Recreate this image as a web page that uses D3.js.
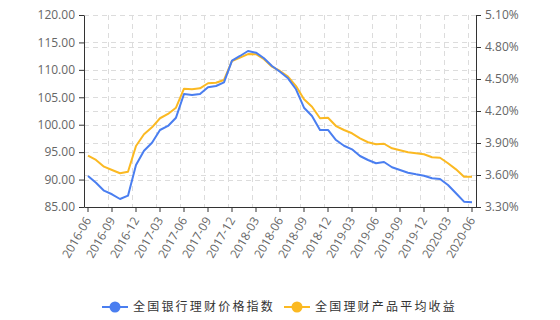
<!DOCTYPE html>
<html>
<head>
<meta charset="utf-8">
<script src="https://cdn.jsdelivr.net/npm/d3@7"></script>
<style>
  body { margin: 0; background: #fff; }
  svg text { font-family: "Open Sans", "DejaVu Sans", sans-serif; }
</style>
</head>
<body>
<div id="chart"></div>
<script>
// months 2016-06 .. 2020-06
var months = [];
for (var m = 0; m < 49; m++) {
    var yy = 2016 + Math.floor((5 + m) / 12);
    var mm = (5 + m) % 12 + 1;
    months.push(yy + "-" + (mm < 10 ? "0" + mm : mm));
}

// 全国银行理财价格指数 (left axis)
var priceIndex = [90.65, 89.43, 87.97, 87.32, 86.46, 87.06, 92.66, 95.26, 96.72, 99.04,
    99.77, 101.28, 105.6, 105.42, 105.6, 106.82, 107.06, 107.73, 111.67, 112.53,
    113.44, 113.13, 112.11, 110.7, 109.66, 108.46, 106.46, 103.1, 101.59, 99.04,
    99.04, 97.21, 96.17, 95.52, 94.3, 93.57, 92.97, 93.2, 92.24, 91.74,
    91.25, 90.96, 90.71, 90.23, 90.1, 89.01, 87.5, 85.97, 85.86];

// 全国理财产品平均收益 (right axis, %)
var avgYield = [3.781, 3.741, 3.678, 3.647, 3.616, 3.631, 3.872, 3.982, 4.047, 4.132,
    4.172, 4.231, 4.409, 4.403, 4.413, 4.46, 4.465, 4.491, 4.669, 4.7,
    4.734, 4.732, 4.685, 4.615, 4.575, 4.522, 4.434, 4.31, 4.24, 4.132,
    4.137, 4.059, 4.022, 3.991, 3.944, 3.907, 3.888, 3.893, 3.85, 3.832,
    3.813, 3.803, 3.794, 3.766, 3.762, 3.71, 3.653, 3.584, 3.584];

var leftTicks = [85, 90, 95, 100, 105, 110, 115, 120];
var rightTicks = [3.3, 3.6, 3.9, 4.2, 4.5, 4.8, 5.1];
var seriesNames = ["全国银行理财价格指数", "全国理财产品平均收益"];

var colors = ["#4a7ef0", "#fbb922"];
var W = 560, H = 320;
var plot = {left: 84, right: 476, top: 15, bottom: 207};

var svg = d3.select("#chart").append("svg")
    .attr("width", W)
    .attr("height", H);

var x = d3.scaleBand().domain(months).range([plot.left, plot.right]).padding(0);
var yL = d3.scaleLinear().domain([85, 120]).range([plot.bottom, plot.top]);
var yR = d3.scaleLinear().domain([3.3, 5.1]).range([plot.bottom, plot.top]);

// grid
var grid = svg.append("g")
    .attr("stroke", "#dcdcdc")
    .attr("stroke-dasharray", "5,4")
    .attr("stroke-width", 1);

leftTicks.slice(1).forEach(function(t) {
    grid.append("line").attr("x1", plot.left).attr("x2", plot.right)
        .attr("y1", Math.round(yL(t)) + 0.5).attr("y2", Math.round(yL(t)) + 0.5);
});
rightTicks.slice(1).forEach(function(t) {
    grid.append("line").attr("x1", plot.left).attr("x2", plot.right)
        .attr("y1", Math.round(yR(t)) + 0.5).attr("y2", Math.round(yR(t)) + 0.5);
});
months.forEach(function(d, i) {
    if (i > 0 && i % 3 === 0) {
        grid.append("line").attr("y1", plot.top).attr("y2", plot.bottom)
            .attr("x1", x(d) + 0.5).attr("x2", x(d) + 0.5);
    }
});

// axes
function styleAxis(g) {
    g.selectAll(".domain, .tick line").attr("stroke", "#333");
    g.selectAll("text").attr("fill", "#666").style("font-size", "12px");
}

svg.append("g")
    .attr("transform", "translate(" + plot.left + ",0)")
    .call(d3.axisLeft(yL).tickValues(leftTicks).tickFormat(d3.format(".2f"))
        .tickSize(5).tickSizeOuter(0).tickPadding(4))
    .call(styleAxis);

svg.append("g")
    .attr("transform", "translate(" + plot.right + ",0)")
    .call(d3.axisRight(yR).tickValues(rightTicks).tickFormat(function(d) { return d.toFixed(2) + "%"; })
        .tickSize(5).tickSizeOuter(0).tickPadding(4))
    .call(styleAxis);

var xAxis = svg.append("g")
    .attr("transform", "translate(0," + plot.bottom + ")")
    .call(d3.axisBottom(x).tickValues(months.filter(function(d, i) { return i % 3 === 0; }))
        .tickSize(5).tickSizeOuter(0))
    .call(styleAxis);

xAxis.selectAll("text")
    .attr("text-anchor", "end")
    .attr("x", 0).attr("y", 0).attr("dy", "0.35em")
    .attr("transform", "translate(0,11) rotate(-60)");

// lines
var lineL = d3.line()
    .x(function(d, i) { return x(months[i]) + x.bandwidth() / 2; })
    .y(function(d) { return yL(d); });
var lineR = d3.line()
    .x(function(d, i) { return x(months[i]) + x.bandwidth() / 2; })
    .y(function(d) { return yR(d); });

svg.append("path").datum(avgYield)
    .attr("d", lineR)
    .attr("fill", "none")
    .attr("stroke", colors[1])
    .attr("stroke-width", 2)
    .attr("stroke-linejoin", "round");

svg.append("path").datum(priceIndex)
    .attr("d", lineL)
    .attr("fill", "none")
    .attr("stroke", colors[0])
    .attr("stroke-width", 2)
    .attr("stroke-linejoin", "round");

// legend
var legendX = [102, 284];
seriesNames.forEach(function(name, i) {
    var g = svg.append("g").attr("transform", "translate(" + legendX[i] + ",307)");
    g.append("line").attr("x1", 0).attr("x2", 26).attr("y1", 0).attr("y2", 0)
        .attr("stroke", colors[i]).attr("stroke-width", 2);
    g.append("circle").attr("cx", 13).attr("cy", 0).attr("r", 5.5).attr("fill", colors[i]);
    g.append("text")
        .attr("x", 31).attr("y", 0).attr("dy", "0.36em")
        .attr("fill", "#333")
        .style("font-family", "'Noto Sans CJK SC', sans-serif")
        .style("font-size", "12px")
        .style("letter-spacing", "2.2px")
        .text(name);
});
</script>
</body>
</html>
